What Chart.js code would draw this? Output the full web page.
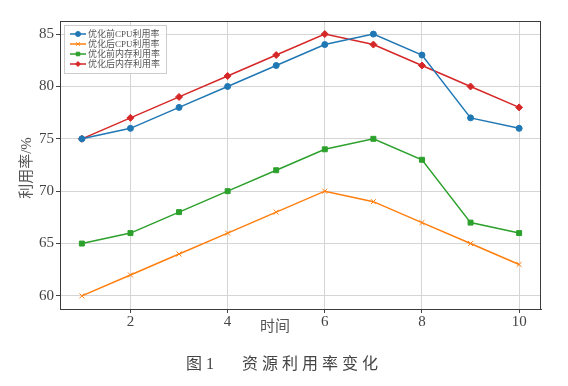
<!DOCTYPE html>
<html>
<head>
<meta charset="utf-8">
<script src="https://cdn.jsdelivr.net/npm/chart.js@4"></script>
<style>
  body { margin: 0; background: #fff; }
  #wrap { width: 568px; height: 386px; }
</style>
</head>
<body>
<div id="wrap"><canvas id="chart" width="568" height="386"></canvas></div>
<script>
// DATOS
const tiempo = [1, 2, 3, 4, 5, 6, 7, 8, 9, 10];
const cpuAntes = [75, 76, 78, 80, 82, 84, 85, 83, 77, 76];
const cpuDespues = [60, 62, 64, 66, 68, 70, 69, 67, 65, 63];
const memAntes = [65, 66, 68, 70, 72, 74, 75, 73, 67, 66];
const memDespues = [75, 77, 79, 81, 83, 85, 84, 82, 80, 78];
const xTicks = [2, 4, 6, 8, 10];
const yTicks = [60, 65, 70, 75, 80, 85];
const nombres = ['优化前CPU利用率', '优化后CPU利用率', '优化前内存利用率', '优化后内存利用率'];

const fuente = "'Liberation Serif', 'Noto Sans CJK SC', serif";

function puntos(vals) {
    return tiempo.map((t, i) => ({ x: t, y: vals[i] }));
}

function serie(label, vals, color, estilo, radio) {
    return {
        label: label,
        data: puntos(vals),
        borderColor: color,
        backgroundColor: color,
        borderWidth: 1.5,
        pointStyle: estilo,
        pointRadius: radio,
        pointBorderWidth: 1,
        pointHoverRadius: radio
    };
}

// marco, leyenda y textos
const extras = {
    id: 'extras',
    afterDraw(chart) {
        const ctx = chart.ctx;
        const a = chart.chartArea;
        ctx.save();
        ctx.strokeStyle = '#3c3c3c';
        ctx.lineWidth = 1;
        ctx.strokeRect(a.left + 0.5, a.top + 0.5, a.right - a.left - 1, a.bottom - a.top);

        // leyenda
        ctx.fillStyle = 'rgba(255,255,255,0.8)';
        ctx.strokeStyle = '#cccccc';
        ctx.fillRect(64, 25, 102, 48);
        ctx.strokeRect(64.5, 25.5, 102, 48);
        ctx.font = "9px " + fuente;
        ctx.textBaseline = 'middle';
        chart.data.datasets.forEach((ds, i) => {
            const y = 34 + i * 10;
            ctx.strokeStyle = ds.borderColor;
            ctx.fillStyle = ds.backgroundColor;
            ctx.lineWidth = 1.5;
            ctx.beginPath();
            ctx.moveTo(70, y);
            ctx.lineTo(86, y);
            ctx.stroke();
            ctx.lineWidth = 1;
            Chart.helpers.drawPoint(ctx, {
                pointStyle: ds.pointStyle, radius: 2.5, borderWidth: 1
            }, 78, y);
            ctx.fillStyle = '#555';
            ctx.fillText(ds.label, 88, y + 0.5);
        });

        // titulos de ejes
        ctx.fillStyle = '#555';
        ctx.font = "15px " + fuente;
        ctx.textAlign = 'center';
        ctx.textBaseline = 'middle';
        ctx.fillText('时间', 275, 327);
        ctx.save();
        ctx.translate(27, 168);
        ctx.rotate(-Math.PI / 2);
        ctx.fillText('利用率/%', 0, 0);
        ctx.restore();

        // pie de figura
        ctx.font = "16px " + fuente;
        ctx.fillStyle = '#444';
        ctx.textAlign = 'left';
        ctx.fillText('图 1', 186, 365);
        ctx.fillText('资 源 利 用 率 变 化', 242, 365);
        ctx.restore();
    }
};

document.addEventListener("DOMContentLoaded", () => {
    const ctx = document.getElementById('chart').getContext('2d');

    new Chart(ctx, {
        type: 'line',
        data: {
            datasets: [
                serie(nombres[0], cpuAntes, '#1f77b4', 'circle', 3),
                serie(nombres[1], cpuDespues, '#ff7f0e', 'crossRot', 3.5),
                serie(nombres[2], memAntes, '#2ca02c', 'rect', 3.5),
                serie(nombres[3], memDespues, '#d62728', 'rectRot', 3.5)
            ]
        },
        options: {
            responsive: false,
            animation: false,
            layout: { padding: { left: 0, right: 27, top: 21, bottom: 52 } },
            plugins: {
                legend: { display: false },
                tooltip: { enabled: false }
            },
            scales: {
                x: {
                    type: 'linear',
                    min: 0.55,
                    max: 10.45,
                    afterBuildTicks: (s) => { s.ticks = xTicks.map(v => ({ value: v })); },
                    afterFit: (s) => { s.height = 25; },
                    grid: { color: '#d5d5d5', tickColor: '#444', tickLength: 4, lineWidth: 1 },
                    border: { color: '#3c3c3c' },
                    ticks: {
                        color: '#444',
                        font: { family: fuente, size: 15 },
                        padding: 0,
                        maxRotation: 0
                    }
                },
                y: {
                    min: 58.75,
                    max: 86.25,
                    afterBuildTicks: (s) => { s.ticks = yTicks.map(v => ({ value: v })); },
                    afterFit: (s) => { s.width = 60; },
                    grid: { color: '#d5d5d5', tickColor: '#444', tickLength: 4, lineWidth: 1 },
                    border: { color: '#3c3c3c' },
                    ticks: {
                        color: '#444',
                        font: { family: fuente, size: 15 },
                        padding: 2
                    }
                }
            }
        },
        plugins: [extras]
    });
});
</script>
</body>
</html>
